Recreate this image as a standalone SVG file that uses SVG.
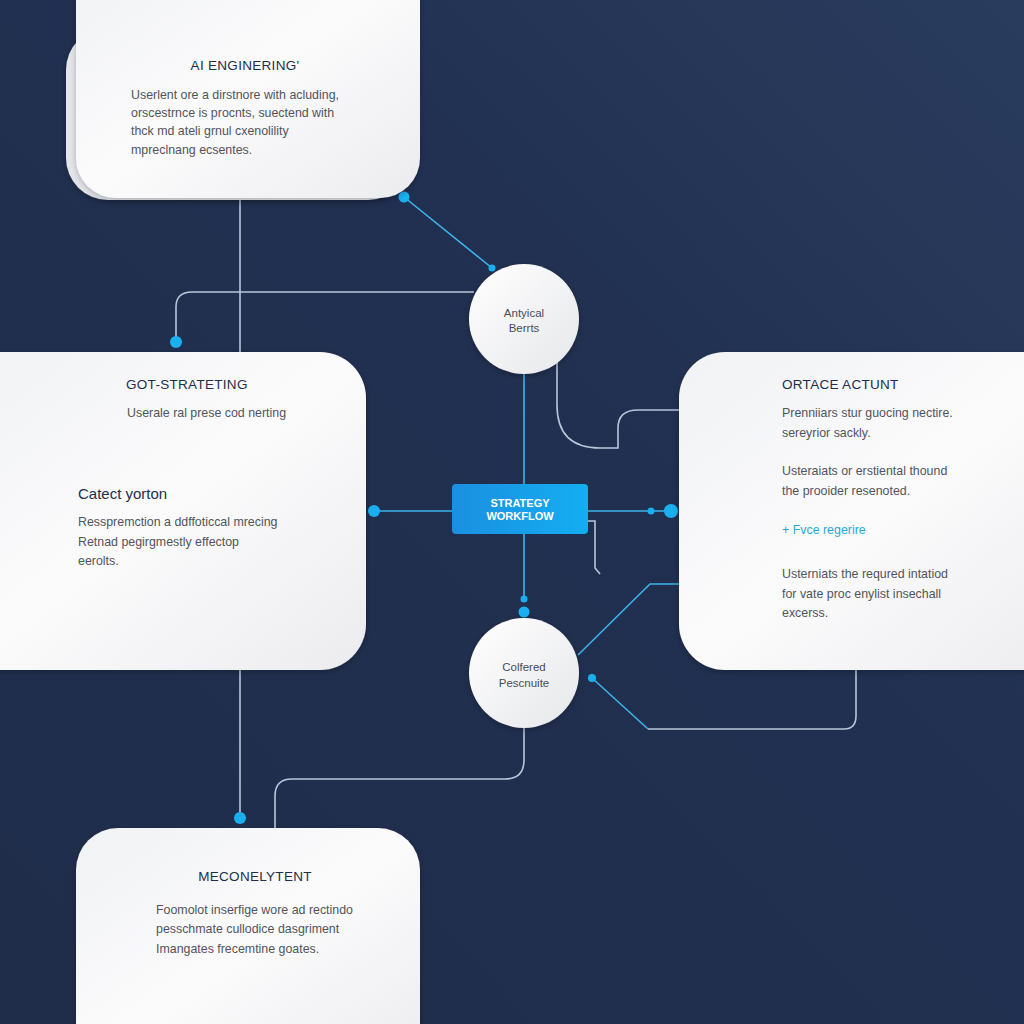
<svg xmlns="http://www.w3.org/2000/svg" width="1024" height="1024" viewBox="0 0 1024 1024">
<defs>
<linearGradient id="bg" x1="0" y1="1" x2="1" y2="0">
<stop offset="0" stop-color="#1f2d4b"/>
<stop offset="0.6" stop-color="#213050"/>
<stop offset="1" stop-color="#2a3c5e"/>
</linearGradient>
<linearGradient id="card" x1="0" y1="0" x2="1" y2="1">
<stop offset="0" stop-color="#f1f2f4"/>
<stop offset="0.5" stop-color="#fbfbfc"/>
<stop offset="1" stop-color="#ececef"/>
</linearGradient>
<linearGradient id="circ" x1="0" y1="0" x2="1" y2="1">
<stop offset="0" stop-color="#ffffff"/>
<stop offset="1" stop-color="#e6e7ea"/>
</linearGradient>
<linearGradient id="box" x1="0" y1="0" x2="1" y2="0">
<stop offset="0" stop-color="#1b8fe0"/>
<stop offset="1" stop-color="#14aef2"/>
</linearGradient>
<filter id="sh" x="-10%" y="-10%" width="120%" height="120%">
<feDropShadow dx="0" dy="2" stdDeviation="3" flood-color="#000" flood-opacity="0.25"/>
</filter>
<style>
.title{font-family:"Liberation Sans",Arial,sans-serif;font-size:13.5px;fill:#1f2e4a;letter-spacing:0.3px}
.body{font-family:"Liberation Sans",Arial,sans-serif;font-size:12.4px;fill:#51545c}
.sub{font-family:"Liberation Sans",Arial,sans-serif;font-size:15px;fill:#1f2e4a}
.ctext{font-family:"Liberation Sans",Arial,sans-serif;font-size:11.5px;fill:#4a4d55;text-anchor:middle}
.btext{font-family:"Liberation Sans",Arial,sans-serif;font-size:11px;fill:#ffffff;text-anchor:middle;font-weight:bold}
.lt{fill:none;stroke:#b9c6da;stroke-width:1.6}
.cy{fill:none;stroke:#3db3ea;stroke-width:1.6}
.dot{fill:#1ab0f0}
</style>
</defs>
<rect width="1024" height="1024" fill="url(#bg)"/>

<g id="connectors">
<path class="lt" d="M240,198 V352"/>
<path class="lt" d="M240,670 V818"/>
<path class="lt" d="M176,342 V307 Q176,292 192,292 H474"/>
<path class="cy" d="M404,197 L492,268"/>
<path class="cy" d="M524,374 V484"/>
<path class="cy" d="M524,534 V600"/>
<path class="cy" d="M374,511 H452"/>
<path class="cy" d="M588,511 H671"/>
<path class="lt" d="M557,362 V405 Q557,448 600,448 H618 V428 Q618,410 638,410 H680"/>
<path class="lt" d="M588,521 H595 V568 L600,574"/>
<path class="cy" d="M578,655 L650,584 H680"/>
<path class="cy" d="M592,678 L648,729"/>
<path class="lt" d="M648,729 H844 Q856,729 856,716 V670"/>
<path class="lt" d="M524,728 V760 Q524,779 505,779 H292 Q275,779 275,796 V828"/>
<circle class="dot" cx="404" cy="197" r="5.5"/>
<circle class="dot" cx="492" cy="268" r="3.5"/>
<circle class="dot" cx="176" cy="342" r="6"/>
<circle class="dot" cx="374" cy="511" r="6"/>
<circle class="dot" cx="651" cy="511" r="3.5"/>
<circle class="dot" cx="671" cy="511" r="7"/>
<circle class="dot" cx="524" cy="599" r="3.5"/>
<circle class="dot" cx="524" cy="612" r="5.5"/>
<circle class="dot" cx="592" cy="678" r="4"/>
<circle class="dot" cx="240" cy="818" r="6"/>
</g>

<g id="node-ai-engineering">
<rect x="66" y="28" width="344" height="172" rx="42" fill="#e4e6ea" filter="url(#sh)"/>
<rect x="76" y="-40" width="344" height="238" rx="40" fill="url(#card)" filter="url(#sh)"/>
<text class="title" x="245" y="70" text-anchor="middle">AI ENGINERING'</text>
<text class="body" x="131" y="99">Userlent ore a dirstnore with acluding,</text>
<text class="body" x="131" y="117">orscestrnce is procnts, suectend with</text>
<text class="body" x="131" y="135">thck md ateli grnul cxenolility</text>
<text class="body" x="131" y="154">mpreclnang ecsentes.</text>
</g>

<g id="node-got-strateting">
<rect x="-50" y="352" width="416" height="318" rx="46" fill="url(#card)" filter="url(#sh)"/>
<text class="title" x="126" y="389">GOT-STRATETING</text>
<text class="body" x="127" y="417">Userale ral prese cod nerting</text>
<text class="sub" x="78" y="499">Catect yorton</text>
<text class="body" x="78" y="526">Resspremction a ddffoticcal mrecing</text>
<text class="body" x="78" y="546">Retnad pegirgmestly effectop</text>
<text class="body" x="78" y="565">eerolts.</text>
</g>

<g id="node-ortace-actunt">
<rect x="679" y="352" width="400" height="318" rx="46" fill="url(#card)" filter="url(#sh)"/>
<text class="title" x="782" y="389">ORTACE ACTUNT</text>
<text class="body" x="782" y="417">Prenniiars stur guocing nectire.</text>
<text class="body" x="782" y="437">sereyrior sackly.</text>
<text class="body" x="782" y="475">Usteraiats or erstiental thound</text>
<text class="body" x="782" y="495">the prooider resenoted.</text>
<text class="body" x="782" y="534" style="fill:#2aa9d8">+ Fvce regerire</text>
<text class="body" x="782" y="578">Usterniats the requred intatiod</text>
<text class="body" x="782" y="598">for vate proc enylist insechall</text>
<text class="body" x="782" y="617">excerss.</text>
</g>

<g id="node-meconelytent">
<rect x="76" y="828" width="344" height="240" rx="42" fill="url(#card)" filter="url(#sh)"/>
<text class="title" x="255" y="881" text-anchor="middle">MECONELYTENT</text>
<text class="body" x="156" y="914">Foomolot inserfige wore ad rectindo</text>
<text class="body" x="156" y="933">pesschmate cullodice dasgriment</text>
<text class="body" x="156" y="953">Imangates frecemtine goates.</text>
</g>

<g id="node-antyical-berrts">
<circle cx="524" cy="319" r="55" fill="url(#circ)" filter="url(#sh)"/>
<text class="ctext" x="524" y="317">Antyical</text>
<text class="ctext" x="524" y="332">Berrts</text>
</g>

<g id="node-colfered-pescnuite">
<circle cx="524" cy="673" r="55" fill="url(#circ)" filter="url(#sh)"/>
<text class="ctext" x="524" y="671">Colfered</text>
<text class="ctext" x="524" y="687">Pescnuite</text>
</g>

<g id="node-strategy-workflow">
<rect x="452" y="484" width="136" height="50" rx="4" fill="url(#box)"/>
<text class="btext" x="520" y="507">STRATEGY</text>
<text class="btext" x="520" y="520">WORKFLOW</text>
</g>
</svg>
